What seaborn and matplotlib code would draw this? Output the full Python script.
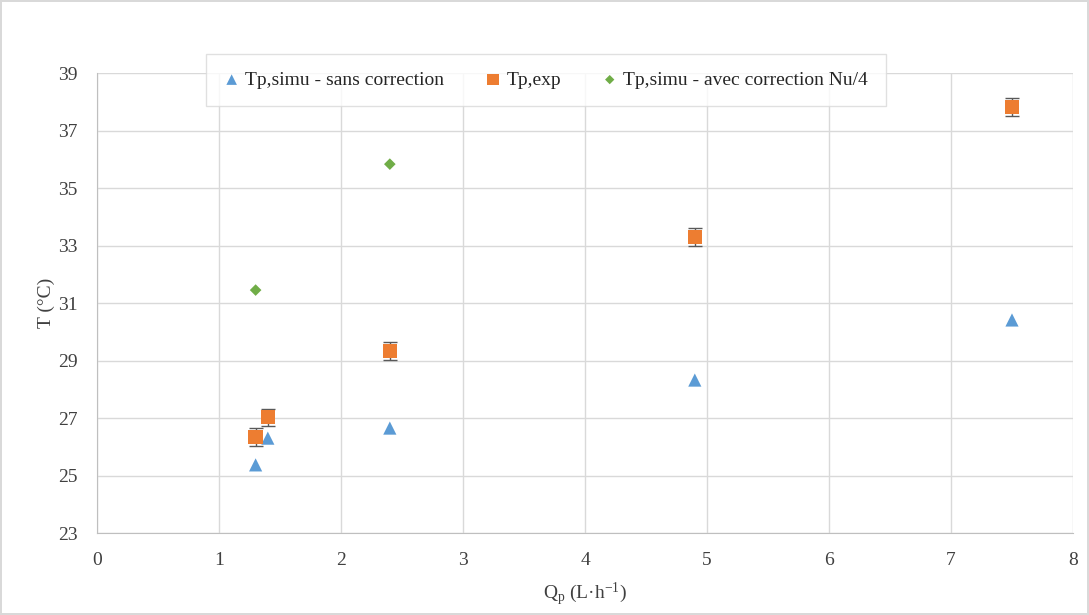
import matplotlib
matplotlib.use("Agg")
import matplotlib.pyplot as plt
import seaborn as sns
import pandas as pd

# data
q_simu = [1.3, 1.4, 2.4, 4.9, 7.5]
t_simu = [25.37, 26.30, 26.65, 28.32, 30.41]

q_exp = [1.3, 1.4, 2.4, 4.9, 7.5]
t_exp = [26.34, 27.03, 29.33, 33.30, 37.82]
t_exp_err = [0.3, 0.3, 0.3, 0.3, 0.3]

q_corr = [1.3, 2.4]
t_corr = [31.45, 35.83]

labels = ["Tp,simu - sans correction", "Tp,exp", "Tp,simu - avec correction Nu/4"]

df = pd.concat([
    pd.DataFrame({"Q": q_simu, "T": t_simu, "serie": labels[0]}),
    pd.DataFrame({"Q": q_exp, "T": t_exp, "serie": labels[1]}),
    pd.DataFrame({"Q": q_corr, "T": t_corr, "serie": labels[2]}),
])

sns.set_style("whitegrid")
plt.rcParams["font.family"] = ["Liberation Serif", "DejaVu Serif"]
plt.rcParams["mathtext.fontset"] = "custom"
plt.rcParams["mathtext.rm"] = "Liberation Serif"
plt.rcParams["mathtext.it"] = "Liberation Serif:italic"

fig = plt.figure(figsize=(10.89, 6.15), dpi=100, edgecolor="#d9d9d9", linewidth=1.5)
ax = fig.add_axes([0.0891, 0.1333, 0.8962, 0.748])

colors = {labels[0]: "#5B9BD5", labels[1]: "#ED7D31", labels[2]: "#70AD47"}
markers = {labels[0]: "^", labels[1]: "s", labels[2]: "D"}
sizes = {labels[0]: 90, labels[1]: 110, labels[2]: 35}

# error bars for experimental points
ax.errorbar(q_exp, t_exp, yerr=t_exp_err, fmt="none", ecolor="#595959",
            elinewidth=1, capsize=5, capthick=1, zorder=2)

for s in labels:
    sub = df[df["serie"] == s]
    sns.scatterplot(data=sub, x="Q", y="T", ax=ax, color=colors[s],
                    marker=markers[s], s=sizes[s], edgecolor="none",
                    label=s, zorder=3)

ax.set_xlim(0, 8)
ax.set_ylim(23, 39)
ax.set_xticks(range(0, 9))
ax.set_yticks(range(23, 40, 2))
ax.grid(True, color="#d9d9d9", linewidth=1)
for side in ["top", "right"]:
    ax.spines[side].set_visible(False)
for side in ["left", "bottom"]:
    ax.spines[side].set_color("#bfbfbf")
ax.tick_params(axis="both", labelsize=14, colors="#404040", length=0, pad=14)

ax.set_xlabel(r"Q$_\mathrm{p}$ (L·h$^{\mathrm{-1}}$)", fontsize=14, color="#404040", labelpad=8)
ax.set_ylabel("T (°C)", fontsize=14, color="#404040", labelpad=2)

leg = ax.legend(loc="center", bbox_to_anchor=(0.46, 0.985), ncol=3, fontsize=14,
                frameon=True, fancybox=False, edgecolor="#d9d9d9",
                handlelength=0.8, handletextpad=0.3, columnspacing=2.1,
                borderpad=0.9, borderaxespad=0, markerscale=0.8)
leg.get_frame().set_linewidth(1)
for t in leg.get_texts():
    t.set_color("#262626")

fig.savefig("out.png", dpi=100, edgecolor=fig.get_edgecolor())
